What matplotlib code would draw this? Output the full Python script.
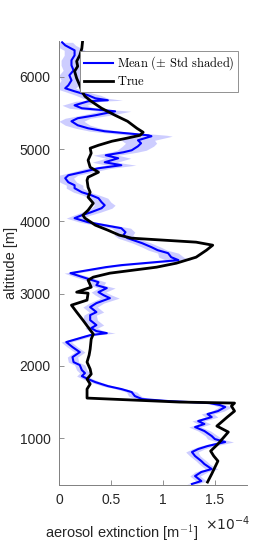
import matplotlib
matplotlib.use("Agg")
import matplotlib.pyplot as plt
import numpy as np

plt.rcParams['font.family'] = ['Liberation Sans', 'DejaVu Sans']
plt.rcParams['mathtext.fontset'] = 'cm'

# True profile (extinction in units of 1e-4 m^-1)
true_alt = [391, 502, 682, 751, 820, 917, 1083, 1166, 1290, 1373, 1443, 1484, 1498, 1553,
            1608, 1678, 1747, 1816, 1885, 1954, 2051, 2148, 2231, 2369, 2438, 2535, 2632,
            2743, 2839, 2909, 3005, 3019, 3088, 3185, 3227, 3282, 3365, 3420, 3503, 3600,
            3669, 3711, 3766, 3808, 3877, 3946, 4043, 4084, 4153, 4250, 4333, 4402, 4471,
            4568, 4610, 4679, 4748, 4845, 4942, 5011, 5052, 5108, 5149, 5190, 5232, 5287,
            5384, 5467, 5564, 5661, 5730, 5799, 5882, 5979, 6076, 6145, 6214, 6297, 6394, 6532]
true_ext = [1.43, 1.47, 1.53, 1.49, 1.46, 1.53, 1.63, 1.52, 1.62, 1.69, 1.66, 1.69, 1.16, 0.27,
            0.27, 0.27, 0.30, 0.27, 0.31, 0.30, 0.27, 0.29, 0.30, 0.31, 0.33, 0.28, 0.23,
            0.17, 0.12, 0.27, 0.28, 0.17, 0.31, 0.28, 0.33, 0.49, 0.94, 1.13, 1.32, 1.42,
            1.48, 1.32, 0.70, 0.58, 0.47, 0.35, 0.25, 0.23, 0.28, 0.33, 0.28, 0.30, 0.28,
            0.27, 0.28, 0.38, 0.30, 0.28, 0.31, 0.30, 0.38, 0.51, 0.65, 0.78, 0.81, 0.75,
            0.66, 0.54, 0.41, 0.31, 0.25, 0.22, 0.20, 0.17, 0.15, 0.18, 0.17, 0.20, 0.22, 0.23]

# Mean retrieved profile and standard deviation
mean_alt = [364, 405, 474, 530, 571, 640, 682, 751, 806, 848, 889, 945, 986, 1028, 1097, 1152,
            1194, 1235, 1290, 1332, 1373, 1429, 1456, 1484, 1512, 1539, 1581, 1636, 1678, 1719,
            1774, 1816, 1857, 1899, 1940, 2010, 2051, 2120, 2189, 2259, 2328, 2383, 2424, 2452,
            2480, 2521, 2563, 2632, 2701, 2743, 2812, 2867, 2936, 2977, 3019, 3075, 3116, 3157,
            3227, 3282, 3323, 3365, 3393, 3434, 3462, 3503, 3559, 3600, 3642, 3697, 3766, 3807,
            3849, 3904, 3946, 3987, 4043, 4084, 4126, 4181, 4222, 4264, 4319, 4361, 4402, 4458,
            4499, 4540, 4596, 4637, 4679, 4734, 4776, 4817, 4872, 4914, 4955, 4983, 5038, 5080,
            5121, 5177, 5190, 5246, 5287, 5329, 5384, 5426, 5467, 5522, 5536, 5564, 5605, 5661,
            5675, 5702, 5744, 5799, 5841, 5882, 5951, 6020, 6089, 6159, 6228, 6297, 6366, 6435, 6477]
mean_ext = [1.28, 1.37, 1.31, 1.37, 1.47, 1.40, 1.37, 1.31, 1.28, 1.34, 1.43, 1.60, 1.50, 1.47, 1.40, 1.31,
            1.40, 1.34, 1.47, 1.43, 1.53, 1.60, 1.55, 1.45, 1.05, 0.80, 0.73, 0.70, 0.60, 0.47,
            0.35, 0.28, 0.22, 0.25, 0.22, 0.20, 0.14, 0.13, 0.20, 0.13, 0.07, 0.20, 0.30, 0.46,
            0.36, 0.31, 0.36, 0.30, 0.30, 0.36, 0.30, 0.36, 0.49, 0.43, 0.38, 0.46, 0.36, 0.38,
            0.23, 0.11, 0.28, 0.45, 0.60, 0.92, 1.15, 1.08, 1.05, 0.95, 0.89, 0.80, 0.66, 0.62,
            0.64, 0.60, 0.44, 0.28, 0.15, 0.22, 0.31, 0.41, 0.44, 0.41, 0.38, 0.31, 0.22, 0.15,
            0.15, 0.09, 0.06, 0.09, 0.22, 0.38, 0.60, 0.44, 0.57, 0.45, 0.62, 0.70, 0.76, 0.79,
            0.76, 0.89, 0.86, 0.44, 0.28, 0.18, 0.12, 0.18, 0.35, 0.54, 0.44, 0.22, 0.15, 0.28,
            0.47, 0.35, 0.28, 0.15, 0.06, 0.09, 0.12, 0.10, 0.14, 0.12, 0.12, 0.15, 0.15, 0.06, 0.03]
std_ext = [0.05, 0.05, 0.05, 0.06, 0.06, 0.05, 0.05, 0.05, 0.06, 0.06, 0.07, 0.08, 0.07, 0.06, 0.06, 0.06,
           0.06, 0.06, 0.06, 0.06, 0.06, 0.06, 0.06, 0.06, 0.06, 0.06, 0.06, 0.05, 0.05, 0.05,
           0.05, 0.05, 0.05, 0.05, 0.05, 0.05, 0.05, 0.05, 0.05, 0.05, 0.05, 0.05, 0.06, 0.08,
           0.07, 0.06, 0.07, 0.07, 0.06, 0.07, 0.07, 0.07, 0.09, 0.08, 0.07, 0.08, 0.07, 0.07,
           0.07, 0.06, 0.06, 0.07, 0.08, 0.10, 0.12, 0.12, 0.10, 0.09, 0.09, 0.09, 0.09, 0.09,
           0.09, 0.09, 0.09, 0.08, 0.08, 0.08, 0.09, 0.10, 0.10, 0.09, 0.09, 0.08, 0.08, 0.08,
           0.08, 0.08, 0.08, 0.09, 0.10, 0.12, 0.14, 0.12, 0.12, 0.12, 0.13, 0.14, 0.15, 0.15,
           0.16, 0.20, 0.18, 0.14, 0.12, 0.12, 0.12, 0.12, 0.14, 0.15, 0.14, 0.12, 0.12, 0.12,
           0.14, 0.12, 0.12, 0.10, 0.10, 0.10, 0.10, 0.10, 0.10, 0.10, 0.10, 0.10, 0.10, 0.10, 0.10]

xticks = [0, 0.5, 1, 1.5]
xticklabels = ['0', '0.5', '1', '1.5']
yticks = [1000, 2000, 3000, 4000, 5000, 6000]

fig = plt.figure(figsize=(2.73, 5.45), dpi=100)
ax = fig.add_axes([59/273, 1 - 485/545, 188/273, 444/545])

m = np.array(mean_ext)
s = np.array(std_ext)
ax.fill_betweenx(mean_alt, m - s, m + s, color='#c8c8ff', lw=0, alpha=0.9)
ax.plot(mean_ext, mean_alt, color='#0000ff', lw=1.5, label=r'$\mathrm{Mean\ (\pm\ Std\ shaded)}$')
ax.plot(true_ext, true_alt, color='black', lw=2.0, label=r'$\mathrm{True}$')

ax.set_xlim(0, 1.81)
ax.set_ylim(350, 6495)
ax.set_xticks(xticks)
ax.set_xticklabels(xticklabels)
ax.set_yticks(yticks)
ax.tick_params(direction='in', length=3.5, width=0.6, labelsize=10, colors='#808080',
               labelcolor='#262626', pad=6)
for sp in ['top', 'right']:
    ax.spines[sp].set_visible(False)
for sp in ['left', 'bottom']:
    ax.spines[sp].set_color('#808080')
    ax.spines[sp].set_linewidth(0.7)

ax.set_ylabel('altitude [m]', fontsize=10.5, color='#262626')
ax.yaxis.set_label_coords((18 - 59) / 188, 0.5)
ax.set_xlabel(r'aerosol extinction [m$^{-1}$]', fontsize=10.5, color='#262626')
ax.xaxis.set_label_coords((122 - 59) / 188, -0.083)
ax.text((228 - 59) / 188, -0.087, r'$\times10^{-4}$', transform=ax.transAxes,
        ha='center', va='center', fontsize=10, color='#262626',
        math_fontfamily='dejavusans')

leg = ax.legend(loc='upper right', bbox_to_anchor=(1 - 9/188, 1 - 10/444), fontsize=9,
                handlelength=2.3, handletextpad=0.3, borderpad=0.3, labelspacing=0.2,
                fancybox=False, framealpha=1, edgecolor='#808080', borderaxespad=0)
leg.get_frame().set_linewidth(0.6)

fig.savefig('out.png', dpi=100)
